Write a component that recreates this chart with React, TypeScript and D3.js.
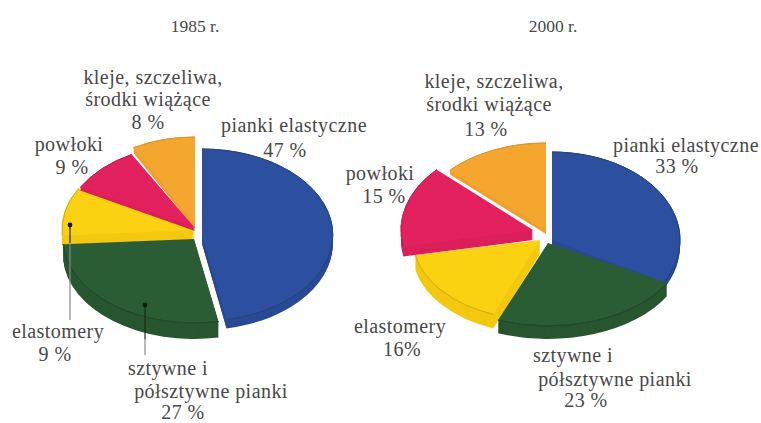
import React from "react";
import * as d3 from "d3";

const WIDTH = 761;
const HEIGHT = 423;

// Market shares in percent, clockwise from twelve o'clock.
const categories = ["pianki elastyczne", "sztywne i półsztywne pianki", "elastomery", "powłoki", "kleje, szczeliwa, środki wiążące"];
const shares1985 = [47, 27, 9, 9, 8];
const shares2000 = [33, 23, 16, 15, 13];
const years = ["1985 r.", "2000 r."];

const topColors = ["#2c4f9f", "#2a5d34", "#fbd212", "#e3215f", "#f5a62f"];
const wallColors = ["#2a4a94", "#28562f", "#f3c810", "#dc1f5b", "#f0a02d"];
const rimColors = ["#274486", "#224a2a", "#dcb20d", "#c81b52", "#e09628"];

// Where each exploded wedge sits: centre, radii and thickness, in category order.
type Wedge = { cx: number; cy: number; rx: number; ry: number; depth: number };
const wedges1985: Wedge[] = [
  { cx: 202, cy: 235, rx: 131, ry: 86, depth: 9 },
  { cx: 194, cy: 239, rx: 131, ry: 84, depth: 16 },
  { cx: 195, cy: 230, rx: 133, ry: 86, depth: 10 },
  { cx: 195, cy: 228, rx: 131, ry: 84, depth: 3 },
  { cx: 195, cy: 224, rx: 128, ry: 87, depth: 5 },
];
const wedges2000: Wedge[] = [
  { cx: 552, cy: 240, rx: 128, ry: 88, depth: 6 },
  { cx: 548, cy: 243, rx: 136, ry: 83, depth: 13 },
  { cx: 540, cy: 240, rx: 127, ry: 80, depth: 14 },
  { cx: 533, cy: 230, rx: 132, ry: 88, depth: 10 },
  { cx: 546, cy: 230, rx: 132, ry: 87, depth: 4 },
];

// Painting order keeps the nearer wedges on top of the farther ones.
const paintOrder = [4, 2, 3, 0, 1];

type Label = { text: string; x: number; y: number };
const titles: Label[] = [
  { text: years[0], x: 195, y: 32 },
  { text: years[1], x: 553, y: 32 },
];
const labels: Label[] = [
  { text: "kleje, szczeliwa,", x: 153, y: 84 },
  { text: "środki wiążące", x: 148, y: 106 },
  { text: "8 %", x: 148, y: 129 },
  { text: "pianki elastyczne", x: 294, y: 132 },
  { text: "47 %", x: 285, y: 157 },
  { text: "powłoki", x: 69, y: 151 },
  { text: "9 %", x: 72, y: 174 },
  { text: "elastomery", x: 58, y: 338 },
  { text: "9 %", x: 55, y: 361 },
  { text: "sztywne i", x: 168, y: 375 },
  { text: "półsztywne pianki", x: 211, y: 398 },
  { text: "27 %", x: 183, y: 419 },
  { text: "kleje, szczeliwa,", x: 494, y: 88 },
  { text: "środki wiążące", x: 489, y: 111 },
  { text: "13 %", x: 486, y: 136 },
  { text: "pianki elastyczne", x: 686, y: 152 },
  { text: "33 %", x: 677, y: 173 },
  { text: "powłoki", x: 380, y: 180 },
  { text: "15 %", x: 384, y: 203 },
  { text: "elastomery", x: 400, y: 333 },
  { text: "16%", x: 402, y: 356 },
  { text: "sztywne i", x: 573, y: 362 },
  { text: "półsztywne pianki", x: 615, y: 386 },
  { text: "23 %", x: 586, y: 407 },
];

// Leader lines tying the two lower 1985 labels to their wedges.
const leaders = [
  { x: 70, y0: 225, y1: 320, onWedge: 243 },
  { x: 145, y0: 305, y1: 355, onWedge: 339 },
];

const pieLayout = d3.pie<number>().sort(null).startAngle(0).endAngle(2 * Math.PI);
const unitArc = d3.arc<d3.PieArcDatum<number>>().innerRadius(0).outerRadius(1);
const rimArc = d3.arc<d3.PieArcDatum<number>>().innerRadius(1).outerRadius(1);

function Pie({ shares, layout }: { shares: number[]; layout: Wedge[] }) {
  const slices = pieLayout(shares);
  return (
    <g>
      {paintOrder.map((i) => {
        const s = slices[i];
        const w = layout[i];
        const place = (off: number) => `translate(${w.cx},${w.cy + off}) scale(${w.rx},${w.ry})`;
        return (
          <g key={categories[i]}>
            {d3.range(w.depth, 0, -1).map((off) => (
              <path key={off} d={unitArc(s) ?? ""} transform={place(off)} fill={wallColors[i]} />
            ))}
            <path d={unitArc(s) ?? ""} transform={place(0)} fill={topColors[i]} />
            <path
              d={rimArc(s) ?? ""}
              transform={place(0)}
              fill="none"
              stroke={rimColors[i]}
              strokeWidth={1}
              vectorEffect="non-scaling-stroke"
            />
          </g>
        );
      })}
    </g>
  );
}

export default function App() {
  return (
    <svg
      width={WIDTH}
      height={HEIGHT}
      viewBox={`0 0 ${WIDTH} ${HEIGHT}`}
      style={{ position: "absolute", left: 0, top: 0, background: "#fff" }}
    >
      <Pie shares={shares1985} layout={wedges1985} />
      <Pie shares={shares2000} layout={wedges2000} />
      {leaders.map((l) => (
        <g key={l.x}>
          <line x1={l.x} x2={l.x} y1={l.y0} y2={l.onWedge} stroke="#1e2a14" strokeWidth={1.2} />
          <line x1={l.x} x2={l.x} y1={l.onWedge} y2={l.y1} stroke="#8a8a8a" strokeWidth={1.2} />
          <circle cx={l.x} cy={l.y0} r={2.4} fill="#10180c" />
        </g>
      ))}
      <g fontFamily="'Liberation Serif', serif" fill="#484848" textAnchor="middle">
        {titles.map((l) => (
          <text key={l.text} x={l.x} y={l.y} fontSize={17.5}>
            {l.text}
          </text>
        ))}
        {labels.map((l) => (
          <text key={`${l.text}-${l.x}`} x={l.x} y={l.y} fontSize={20} letterSpacing={0.45}>
            {l.text}
          </text>
        ))}
      </g>
    </svg>
  );
}
